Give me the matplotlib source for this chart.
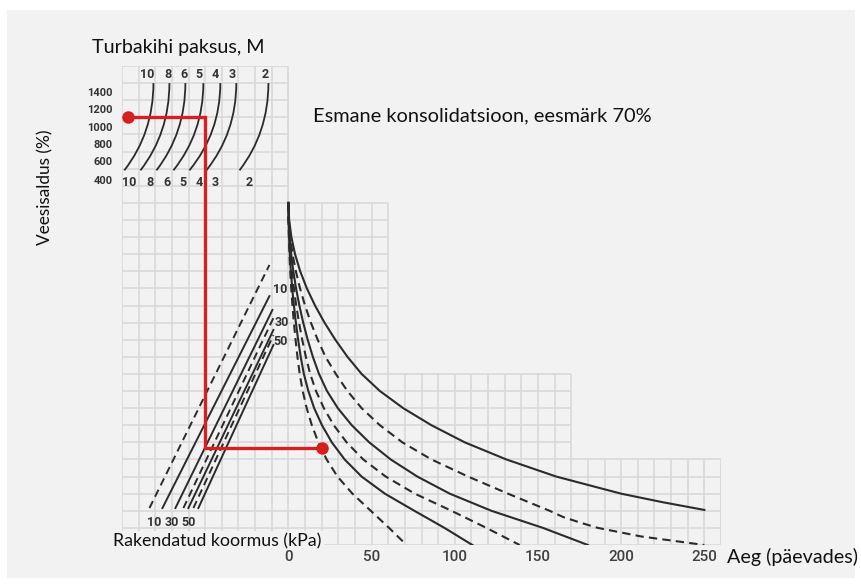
import matplotlib
matplotlib.use("Agg")
import matplotlib.pyplot as plt
from matplotlib.patches import Rectangle, PathPatch
from matplotlib.path import Path

# ---------------- data (x: days / nomogram x-units, y: grid rows) ----------------
# stepped grid: each band (y_low, y_high) reaches to x_max
band_y_low = [0, 5, 10, 20]
band_y_high = [5, 10, 20, 28]
band_x_max = [260, 170, 60, 0]
grid_x_min = -100
grid_step_x = 10

# time axis
time_ticks = [0, 50, 100, 150, 200, 250]

# water content scale (top-left)
water_values = [1400, 1200, 1000, 800, 600, 400]
water_rows = [26.4, 25.4, 24.4, 23.4, 22.4, 21.3]

# peat thickness curves (top-left nomogram)
thickness = ["10", "8", "6", "5", "4", "3", "2"]
thick_x_top = [-81.1, -71.5, -61.9, -51.1, -40.9, -31.3, -12.0]
thick_x_bot = [-98.6, -88.9, -79.3, -69.1, -59.5, -49.3, -29.4]
thick_y_top = 27.0
thick_y_bot = 21.9
thick_lab_top_x = [-84.6, -72.6, -63.0, -53.5, -43.9, -33.7, -13.8]
thick_lab_bot_x = [-95.6, -82.9, -72.7, -63.1, -53.5, -43.9, -23.4]

# applied load lines (straight), bottom x, top (x, y)
load_bot_x = [-83.5, -75.7, -67.9, -63.1, -60.1, -57.1, -54.1]
load_top_x = [-11.4, -11.4, -9.6, -9.0, -9.0, -9.0, -9.0]
load_top_y = [16.37, 14.55, 13.74, 13.27, 12.57, 12.27, 11.69]
load_dashed = [True, False, False, True, False, True, False]
load_y_bot = 2.16
load_labels = ["10", "30", "50"]
load_lab_top = [(-4.8, 14.96), (-4.2, 12.98), (-4.8, 11.87)]
load_lab_bot_x = [-80.5, -70.3, -60.1]

# consolidation curves: x (days) at the listed rows
c1_rows = [20, 19, 18, 17, 16, 15, 14, 13, 12, 11, 10, 9, 8, 7, 6, 5, 4, 3, 2.5, 2.05]
c1_x = [0, 0.45, 1.8, 4.0, 7.1, 11.1, 16.0, 21.7, 28.2, 35.5, 44, 55, 69, 86, 106, 131, 161, 200, 225, 250]

c2_rows = [20, 19, 18, 17, 16, 15, 14, 13, 12, 11, 10, 9, 8, 7, 6, 5, 4, 3, 2, 1.64, 1.29, 1, 0.5, 0]
c2_x = [0, 0.29, 1.15, 2.5, 4.5, 7.0, 10.0, 13.5, 17.6, 22.3, 28.5, 35.5, 44, 55, 68.5, 86, 108, 132, 157, 165, 176, 186, 212, 250]

rows = [20, 19, 18, 17, 16, 15, 14, 13, 12, 11, 10, 9, 8, 7, 6, 5, 4, 3, 2, 1, 0]
c3_x = [0, 0.19, 0.76, 1.67, 3.0, 4.6, 6.6, 8.9, 11.6, 14.7, 18.4, 23.2, 29.7, 38.1, 48.6, 61.5, 77.5, 97, 122, 153, 180]
c4_x = [0, 0.14, 0.54, 1.2, 2.1, 3.3, 4.7, 6.4, 8.3, 10.5, 13.1, 16.6, 21.3, 27.3, 35.0, 45.0, 58.5, 76, 98, 119, 139]
c5_x = [0, 0.1, 0.38, 0.84, 1.5, 2.3, 3.33, 4.5, 5.85, 7.4, 9.3, 12.0, 15.5, 20.2, 26.1, 33.8, 44, 58, 75.7, 93.8, 110.6]
c6_x = [0, 0.07, 0.28, 0.62, 1.1, 1.7, 2.45, 3.3, 4.3, 5.45, 6.8, 8.6, 11.0, 14.1, 18.0, 23.0, 29.5, 38.5, 49.5, 60.5, 71]
curves = [(c1_x, c1_rows, False), (c2_x, c2_rows, True), (c3_x, rows, False),
          (c4_x, rows, True), (c5_x, rows, False), (c6_x, rows, True)]

# example path (red)
ex_start_x, ex_water_row = -96.2, 25.03
ex_load_x = -50
ex_end_row = 5.67
ex_end_x = 20

# ---------------- figure ----------------
W, H, DPI = 861, 584, 100
fig = plt.figure(figsize=(W / DPI, H / DPI), dpi=DPI, facecolor="white")
fig.patches.append(Rectangle((7 / W, 6 / H), 848 / W, 568 / H, transform=fig.transFigure,
                             facecolor="#f2f2f2", edgecolor="none", zorder=-10))

ax = fig.add_axes([122 / W, (H - 545) / H, 599 / W, 479 / H])
ax.set_xlim(-100, 260)
ax.set_ylim(0, 28)
ax.axis("off")
ax.set_zorder(2)

GRID = "#d9d9d9"
LW_G = 1.2
# vertical grid lines
x = grid_x_min
while x <= max(band_x_max):
    ytop = max(h for h, xm in zip(band_y_high, band_x_max) if xm >= x)
    ax.plot([x, x], [0, ytop], color=GRID, lw=LW_G, zorder=1, solid_capstyle="butt")
    x += grid_step_x
# horizontal grid lines
for yy in range(0, max(band_y_high) + 1):
    xm = max(xm for lo, hi, xm in zip(band_y_low, band_y_high, band_x_max) if lo <= yy <= hi)
    ax.plot([grid_x_min, xm], [yy, yy], color=GRID, lw=LW_G, zorder=1, solid_capstyle="butt")

INK = "#2b2b2b"
LBL = "#333333"
num_font = dict(family="Roboto", fontweight="bold", color=LBL)

# thickness curves
for xt, xb, lab, ltx, lbx in zip(thick_x_top, thick_x_bot, thickness, thick_lab_top_x, thick_lab_bot_x):
    verts = [(xb, thick_y_bot), (xt, thick_y_bot + 2.2), (xt, thick_y_top)]
    p = Path(verts, [Path.MOVETO, Path.CURVE3, Path.CURVE3])
    ax.add_patch(PathPatch(p, facecolor="none", edgecolor=INK, lw=1.3, zorder=3))
    ax.text(ltx, 27.5, lab, ha="center", va="center", fontsize=9, **num_font)
    ax.text(lbx, 21.2, lab, ha="center", va="center", fontsize=9, **num_font)

for w, r in zip(water_values, water_rows):
    ax.text(-105.8, r, str(w), ha="right", va="center", fontsize=8, clip_on=False, **num_font)

# load lines
for bx, tx, ty, dsh in zip(load_bot_x, load_top_x, load_top_y, load_dashed):
    ax.plot([bx, tx], [load_y_bot, ty], color=INK, lw=1.4,
            ls=(0, (4, 2.5)) if dsh else "-", zorder=3)
for lab, (lx, ly), bx in zip(load_labels, load_lab_top, load_lab_bot_x):
    ax.text(lx, ly, lab, ha="center", va="center", fontsize=9, **num_font)
    ax.text(bx, 1.34, lab, ha="center", va="center", fontsize=9, **num_font)

# consolidation curves
for cx, cy, dsh in curves:
    ax.plot(cx, cy, color=INK, lw=1.5, ls=(0, (4, 2.5)) if dsh else "-", zorder=3,
            solid_joinstyle="round")

# red example path
RED = "#d61f1f"
ax.plot([ex_start_x, ex_load_x, ex_load_x, ex_end_x],
        [ex_water_row, ex_water_row, ex_end_row, ex_end_row],
        color=RED, lw=2.4, zorder=5, solid_joinstyle="miter")
ax.plot([ex_start_x, ex_end_x], [ex_water_row, ex_end_row], "o", color=RED, ms=8, zorder=6, clip_on=False)

TXT = dict(family="Lato", color="#111111")
ax.text(-105.2, 0.23, "Rakendatud koormus (kPa)", ha="left", va="center", fontsize=12.8, zorder=4,
        clip_on=False, bbox=dict(facecolor="#f2f2f2", edgecolor="none", pad=1.5), **TXT)

# time tick labels
for t in time_ticks:
    ax.text(t, -0.7, str(t), ha="center", va="center", fontsize=11, clip_on=False, zorder=8,
            family="Roboto", fontweight="medium", color="#404040")

fig.text(727 / W, 1 - 557 / H, "Aeg (päevades)", ha="left", va="center", fontsize=14.2, **TXT)
fig.text(92 / W, 1 - 47 / H, "Turbakihi paksus, M", ha="left", va="center", fontsize=14.2, **TXT)
fig.text(313 / W, 1 - 116 / H, "Esmane konsolidatsioon, eesmärk 70%", ha="left", va="center", fontsize=14.4, **TXT)
fig.text(45 / W, 1 - 187 / H, "Veesisaldus (%)", ha="center", va="center", rotation=90, fontsize=12.4, **TXT)

fig.savefig("out.png", dpi=DPI, facecolor="white")
